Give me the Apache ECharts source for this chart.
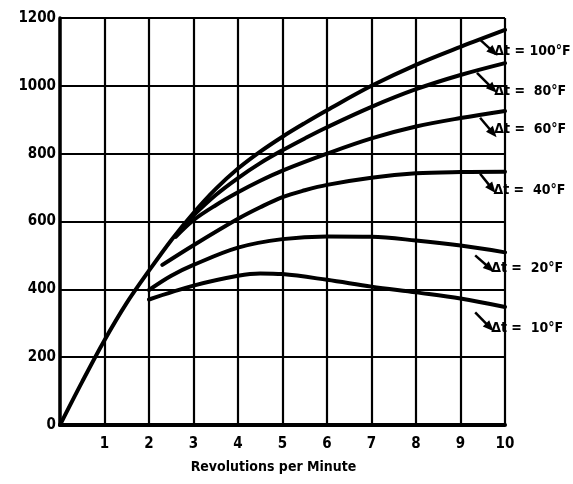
<!DOCTYPE html>
<html>
<head>
<meta charset="utf-8">
<script src="https://cdn.jsdelivr.net/npm/echarts@6.0.0/dist/echarts.min.js"></script>
<style>
html,body{margin:0;padding:0;background:#ffffff;}
#chart{width:573px;height:484px;}
</style>
</head>
<body>
<div id="chart"></div>
<script>
// ---- data ----
const xMin = 0, xMax = 10, xStep = 1;
const yMin = 0, yMax = 1200, yStep = 200;
const xAxisTitle = 'Revolutions per Minute';
const yAxisTitle = 'Q/Door in CFM';

// Δt = 100°F (includes the common rising trunk from the origin)
const x100 = [0, 0.5, 1, 1.5, 2, 2.5, 3, 3.5, 4, 4.5, 5, 5.5, 6, 7, 8, 9, 10];
const y100 = [0, 128, 250, 360, 455, 545, 625, 696, 756, 806, 850, 890, 928, 1000, 1062, 1115, 1165];
// Δt = 80°F
const x80 = [2.8, 3, 3.5, 4, 4.5, 5, 5.5, 6, 7, 8, 9, 10];
const y80 = [590, 618, 678, 728, 772, 810, 845, 878, 938, 990, 1032, 1067];
// Δt = 60°F
const x60 = [2.6, 3, 3.5, 4, 4.5, 5, 6, 7, 8, 9, 10];
const y60 = [555, 604, 648, 686, 720, 750, 800, 845, 880, 905, 926];
// Δt = 40°F
const x40 = [2.3, 3, 4, 4.5, 5, 5.5, 6, 7, 8, 9, 10];
const y40 = [472, 530, 608, 642, 672, 692, 708, 729, 742, 746, 747];
// Δt = 20°F
const x20 = [2, 2.5, 3, 4, 5, 6, 7, 8, 9, 10];
const y20 = [398, 440, 472, 523, 548, 556, 555, 544, 529, 509];
// Δt = 10°F
const x10 = [2, 3, 4, 4.5, 5, 6, 7, 8, 9, 10];
const y10 = [370, 411, 440, 447, 445, 428, 408, 391, 373, 348];

// curve labels and their leader arrows
const labelTexts = ['Δt = 100°F', 'Δt =  80°F', 'Δt =  60°F', 'Δt =  40°F', 'Δt =  20°F', 'Δt =  10°F'];
const labelX = [9.76, 9.76, 9.76, 9.74, 9.69, 9.69];
const labelY = [1103, 985, 873, 691, 462, 285];
const arrowStartX = [9.45, 9.37, 9.44, 9.44, 9.33, 9.33];
const arrowStartY = [1135, 1038, 906, 741, 500, 332];
const arrowEndX = [9.74, 9.73, 9.73, 9.71, 9.66, 9.66];
const arrowEndY = [1100, 991, 861, 697, 462, 288];

// ---- build chart ----
const FONT = "'Liberation Sans Narrow', 'DejaVu Sans Condensed', 'Arial Narrow', sans-serif";
const zip = (xs, ys) => xs.map((x, i) => [x, ys[i]]);

const curveSets = [
  ['100', x100, y100], ['80', x80, y80], ['60', x60, y60],
  ['40', x40, y40], ['20', x20, y20], ['10', x10, y10]
];

const series = curveSets.map(([name, xs, ys]) => ({
  name: name,
  type: 'line',
  data: zip(xs, ys),
  showSymbol: false,
  smooth: 0.35,
  lineStyle: { color: '#000', width: 4, cap: 'round' },
  z: 5,
  silent: true
}));

series.push({
  name: 'arrows',
  type: 'line',
  data: [],
  markLine: {
    silent: true,
    symbol: ['none', 'triangle'],
    symbolSize: [9, 11],
    label: { show: false },
    lineStyle: { color: '#000', width: 2.5, type: 'solid' },
    data: arrowStartX.map((sx, i) => [
      { coord: [sx, arrowStartY[i]] },
      { coord: [arrowEndX[i], arrowEndY[i]] }
    ])
  }
});

series.push({
  name: 'labels',
  type: 'scatter',
  symbolSize: 0,
  silent: true,
  itemStyle: { opacity: 1, color: '#000' },
  data: labelX.map((x, i) => ({ value: [x, labelY[i]], name: labelTexts[i] })),
  label: {
    show: true,
    position: 'right',
    distance: 0,
    formatter: p => p.name,
    color: '#000',
    opacity: 1,
    fontFamily: FONT,
    fontWeight: 'bold',
    fontSize: 14
  },
  z: 10
});

const chart = echarts.init(document.getElementById('chart'), null, { renderer: 'canvas' });
chart.setOption({
  animation: false,
  backgroundColor: '#ffffff',
  grid: { left: 60, right: 68, top: 18, bottom: 59, containLabel: false, outerBoundsMode: 'none' },
  xAxis: {
    type: 'value',
    min: xMin, max: xMax, interval: xStep,
    name: xAxisTitle,
    nameLocation: 'middle',
    nameGap: 35,
    nameTextStyle: { color: '#000', fontFamily: FONT, fontWeight: 'bold', fontSize: 14, padding: [0, 18, 0, 0] },
    axisLine: { show: true, onZero: false, lineStyle: { color: '#000', width: 4 } },
    axisTick: { show: false },
    axisLabel: {
      color: '#000', fontFamily: FONT, fontWeight: 'bold', fontSize: 15, margin: 12,
      formatter: v => (v === 0 ? '' : String(v))
    },
    splitLine: { show: true, lineStyle: { color: '#000', width: 2.2 } }
  },
  yAxis: {
    type: 'value',
    min: yMin, max: yMax, interval: yStep,
    name: yAxisTitle,
    nameLocation: 'middle',
    nameGap: 36,
    nameRotate: 90,
    nameTextStyle: { color: '#000', fontFamily: FONT, fontWeight: 'bold', fontSize: 14, padding: [0, 0, 30, 0] },
    axisLine: { show: true, onZero: false, lineStyle: { color: '#000', width: 3.5 } },
    axisTick: { show: false },
    axisLabel: {
      color: '#000', fontFamily: FONT, fontWeight: 'bold', fontSize: 15, margin: 4,
      formatter: v => String(v)
    },
    splitLine: { show: true, lineStyle: { color: '#000', width: 2.2 } }
  },
  series: series
});
</script>
</body>
</html>
